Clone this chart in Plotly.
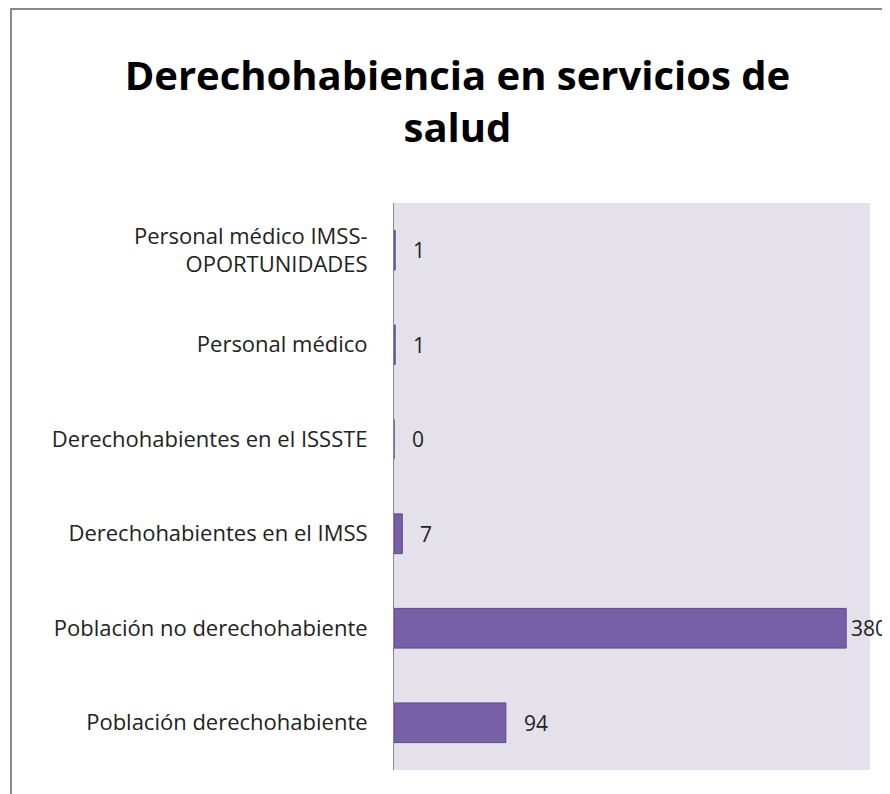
import plotly.graph_objects as go

categorias = [
    "Población derechohabiente",
    "Población no derechohabiente",
    "Derechohabientes en el IMSS",
    "Derechohabientes en el ISSSTE",
    "Personal médico",
    "Personal médico IMSS-<br>OPORTUNIDADES",
]
valores = [94, 380, 7, 0, 1, 1]

x_max = 400

fig = go.Figure()
fig.add_trace(go.Bar(
    x=valores,
    y=categorias,
    orientation="h",
    width=0.42,
    marker=dict(color="#7860A8", line=dict(color="#5E4A8A", width=1)),
    hoverinfo="x+y",
))

# etiquetas de datos, a la derecha de cada barra
for v, c in zip(valores, categorias):
    fig.add_annotation(
        x=v, y=c, text=str(v), showarrow=False,
        xanchor="left", xshift=3 if v > 0.9 * x_max else 16,
        font=dict(size=21, color="#222222"),
    )

fig.update_layout(
    width=890, height=794,
    paper_bgcolor="white",
    plot_bgcolor="#E4E1EA",
    margin=dict(l=386, r=28, t=195, b=32),
    font=dict(family="Open Sans, Lato, sans-serif", color="#222222"),
    title=dict(
        text="<b>Derechohabiencia en servicios de<br>salud</b>",
        x=0.505, xanchor="center",
        y=0.897, yanchor="middle",
        font=dict(size=40, family="Open Sans, sans-serif", color="black"),
    ),
    showlegend=False,
    bargap=0.58,
)
fig.update_xaxes(range=[0, x_max], visible=False, showgrid=False, zeroline=False)
fig.update_yaxes(
    showgrid=False, zeroline=False,
    showline=True, linecolor="#8A8A8A", linewidth=1,
    ticks="", ticklabelstandoff=21,
    tickfont=dict(size=22, family="Open Sans, sans-serif", color="#222222"),
)

# marco exterior del gráfico
fig.add_shape(
    type="rect", xref="paper", yref="paper",
    x0=(3 - 386) / 476, x1=1.2,
    y0=-0.2, y1=(762 - 1) / 567,
    line=dict(color="#8A8A8A", width=2),
    fillcolor="rgba(0,0,0,0)", layer="below",
)

fig.write_html("out.html")
